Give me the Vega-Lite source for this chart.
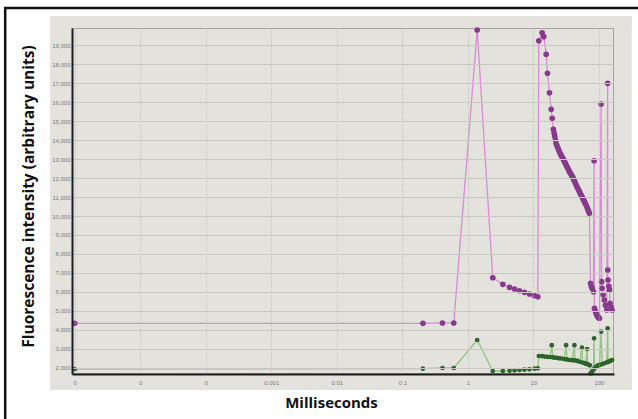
{
  "$schema": "https://vega.github.io/schema/vega-lite/v6.json",
  "width": 542,
  "height": 346,
  "autosize": "none",
  "padding": {"left": 72, "top": 28, "right": 24, "bottom": 45},
  "background": "white",
  "config": {
    "view": {"stroke": "#8e8e8e", "strokeWidth": 1.5, "fill": "#e4e2dd"}
  },
  "datasets": {
    "series": [
      {"s": "purple", "i": 1, "t": 0.000001, "v": 4350},
      {"s": "purple", "i": 2, "t": 0.206, "v": 4350},
      {"s": "purple", "i": 3, "t": 0.41, "v": 4370},
      {"s": "purple", "i": 4, "t": 0.61, "v": 4370},
      {"s": "purple", "i": 5, "t": 1.39, "v": 19790},
      {"s": "purple", "i": 6, "t": 2.4, "v": 6750},
      {"s": "purple", "i": 7, "t": 3.42, "v": 6405},
      {"s": "purple", "i": 8, "t": 4.33, "v": 6247},
      {"s": "purple", "i": 9, "t": 5.16, "v": 6158},
      {"s": "purple", "i": 10, "t": 6.14, "v": 6068},
      {"s": "purple", "i": 11, "t": 7.31, "v": 5984},
      {"s": "purple", "i": 12, "t": 8.71, "v": 5895},
      {"s": "purple", "i": 13, "t": 10.4, "v": 5805},
      {"s": "purple", "i": 14, "t": 11.7, "v": 5752},
      {"s": "purple", "i": 15, "t": 12.1, "v": 19226},
      {"s": "purple", "i": 16, "t": 13.6, "v": 19647},
      {"s": "purple", "i": 17, "t": 14.4, "v": 19437},
      {"s": "purple", "i": 18, "t": 15.7, "v": 18511},
      {"s": "purple", "i": 19, "t": 16.4, "v": 17511},
      {"s": "purple", "i": 20, "t": 17.6, "v": 16489},
      {"s": "purple", "i": 21, "t": 18.7, "v": 15616},
      {"s": "purple", "i": 22, "t": 19.4, "v": 15142},
      {"s": "purple", "i": 23, "t": 20.2, "v": 14563},
      {"s": "purple", "i": 24, "t": 20.7, "v": 14380},
      {"s": "purple", "i": 25, "t": 21.2, "v": 14200},
      {"s": "purple", "i": 26, "t": 21.7, "v": 14010},
      {"s": "purple", "i": 27, "t": 22.2, "v": 13826},
      {"s": "purple", "i": 28, "t": 22.8, "v": 13710},
      {"s": "purple", "i": 29, "t": 23.5, "v": 13600},
      {"s": "purple", "i": 30, "t": 24.2, "v": 13490},
      {"s": "purple", "i": 31, "t": 25.0, "v": 13384},
      {"s": "purple", "i": 32, "t": 25.7, "v": 13290},
      {"s": "purple", "i": 33, "t": 26.5, "v": 13200},
      {"s": "purple", "i": 34, "t": 27.3, "v": 13120},
      {"s": "purple", "i": 35, "t": 28.1, "v": 13037},
      {"s": "purple", "i": 36, "t": 29.0, "v": 12950},
      {"s": "purple", "i": 37, "t": 29.8, "v": 12860},
      {"s": "purple", "i": 38, "t": 30.7, "v": 12770},
      {"s": "purple", "i": 39, "t": 31.6, "v": 12684},
      {"s": "purple", "i": 40, "t": 32.5, "v": 12600},
      {"s": "purple", "i": 41, "t": 33.5, "v": 12510},
      {"s": "purple", "i": 42, "t": 34.5, "v": 12420},
      {"s": "purple", "i": 43, "t": 35.5, "v": 12332},
      {"s": "purple", "i": 44, "t": 36.6, "v": 12260},
      {"s": "purple", "i": 45, "t": 37.7, "v": 12185},
      {"s": "purple", "i": 46, "t": 38.8, "v": 12110},
      {"s": "purple", "i": 47, "t": 39.9, "v": 12037},
      {"s": "purple", "i": 48, "t": 41.1, "v": 11940},
      {"s": "purple", "i": 49, "t": 42.3, "v": 11840},
      {"s": "purple", "i": 50, "t": 43.6, "v": 11735},
      {"s": "purple", "i": 51, "t": 44.9, "v": 11632},
      {"s": "purple", "i": 52, "t": 46.2, "v": 11545},
      {"s": "purple", "i": 53, "t": 47.6, "v": 11455},
      {"s": "purple", "i": 54, "t": 49.0, "v": 11365},
      {"s": "purple", "i": 55, "t": 50.4, "v": 11279},
      {"s": "purple", "i": 56, "t": 51.9, "v": 11190},
      {"s": "purple", "i": 57, "t": 53.4, "v": 11105},
      {"s": "purple", "i": 58, "t": 55.0, "v": 11020},
      {"s": "purple", "i": 59, "t": 56.6, "v": 10932},
      {"s": "purple", "i": 60, "t": 58.3, "v": 10845},
      {"s": "purple", "i": 61, "t": 60.1, "v": 10755},
      {"s": "purple", "i": 62, "t": 61.9, "v": 10665},
      {"s": "purple", "i": 63, "t": 63.8, "v": 10579},
      {"s": "purple", "i": 64, "t": 65.7, "v": 10470},
      {"s": "purple", "i": 65, "t": 67.6, "v": 10360},
      {"s": "purple", "i": 66, "t": 69.6, "v": 10250},
      {"s": "purple", "i": 67, "t": 71.6, "v": 10142},
      {"s": "purple", "i": 68, "t": 74.5, "v": 6458},
      {"s": "purple", "i": 69, "t": 76.5, "v": 6300},
      {"s": "purple", "i": 70, "t": 78.8, "v": 6195},
      {"s": "purple", "i": 71, "t": 82.6, "v": 6016},
      {"s": "purple", "i": 72, "t": 84.5, "v": 12910},
      {"s": "purple", "i": 73, "t": 85.5, "v": 5142},
      {"s": "purple", "i": 74, "t": 88, "v": 5000},
      {"s": "purple", "i": 75, "t": 90.6, "v": 4879},
      {"s": "purple", "i": 76, "t": 93, "v": 4780},
      {"s": "purple", "i": 77, "t": 95.9, "v": 4700},
      {"s": "purple", "i": 78, "t": 99, "v": 4650},
      {"s": "purple", "i": 79, "t": 102, "v": 4616},
      {"s": "purple", "i": 80, "t": 108, "v": 15895},
      {"s": "purple", "i": 81, "t": 110, "v": 6544},
      {"s": "purple", "i": 82, "t": 112, "v": 6195},
      {"s": "purple", "i": 83, "t": 116, "v": 5850},
      {"s": "purple", "i": 84, "t": 121, "v": 5579},
      {"s": "purple", "i": 85, "t": 126, "v": 5300},
      {"s": "purple", "i": 86, "t": 132, "v": 5053},
      {"s": "purple", "i": 87, "t": 136, "v": 16984},
      {"s": "purple", "i": 88, "t": 136.5, "v": 7158},
      {"s": "purple", "i": 89, "t": 138, "v": 6632},
      {"s": "purple", "i": 90, "t": 142, "v": 6300},
      {"s": "purple", "i": 91, "t": 145, "v": 6105},
      {"s": "purple", "i": 92, "t": 148, "v": 5404},
      {"s": "purple", "i": 93, "t": 153, "v": 5200},
      {"s": "purple", "i": 94, "t": 159, "v": 5053},
      {"s": "green", "i": 1, "t": 0.000001, "v": 1940},
      {"s": "green", "i": 2, "t": 0.206, "v": 1963},
      {"s": "green", "i": 3, "t": 0.41, "v": 2000},
      {"s": "green", "i": 4, "t": 0.61, "v": 2000},
      {"s": "green", "i": 5, "t": 1.39, "v": 3474},
      {"s": "green", "i": 6, "t": 2.4, "v": 1842},
      {"s": "green", "i": 7, "t": 3.42, "v": 1842},
      {"s": "green", "i": 8, "t": 4.33, "v": 1858},
      {"s": "green", "i": 9, "t": 5.16, "v": 1879},
      {"s": "green", "i": 10, "t": 6.14, "v": 1895},
      {"s": "green", "i": 11, "t": 7.31, "v": 1911},
      {"s": "green", "i": 12, "t": 8.71, "v": 1932},
      {"s": "green", "i": 13, "t": 10.4, "v": 1963},
      {"s": "green", "i": 14, "t": 11.7, "v": 1984},
      {"s": "green", "i": 15, "t": 12.1, "v": 2630},
      {"s": "green", "i": 16, "t": 13.6, "v": 2620},
      {"s": "green", "i": 17, "t": 15, "v": 2600},
      {"s": "green", "i": 18, "t": 16.5, "v": 2590},
      {"s": "green", "i": 19, "t": 18, "v": 2580},
      {"s": "green", "i": 20, "t": 19.1, "v": 3200},
      {"s": "green", "i": 21, "t": 19.8, "v": 2560},
      {"s": "green", "i": 22, "t": 21, "v": 2550},
      {"s": "green", "i": 23, "t": 23, "v": 2530},
      {"s": "green", "i": 24, "t": 25, "v": 2510},
      {"s": "green", "i": 25, "t": 27, "v": 2500},
      {"s": "green", "i": 26, "t": 29.5, "v": 2470},
      {"s": "green", "i": 27, "t": 31.6, "v": 3200},
      {"s": "green", "i": 28, "t": 32.5, "v": 2450},
      {"s": "green", "i": 29, "t": 35.5, "v": 2420},
      {"s": "green", "i": 30, "t": 39, "v": 2410},
      {"s": "green", "i": 31, "t": 42.3, "v": 3200},
      {"s": "green", "i": 32, "t": 43, "v": 2400},
      {"s": "green", "i": 33, "t": 47, "v": 2370},
      {"s": "green", "i": 34, "t": 51, "v": 2330},
      {"s": "green", "i": 35, "t": 55.1, "v": 3070},
      {"s": "green", "i": 36, "t": 56, "v": 2290},
      {"s": "green", "i": 37, "t": 60, "v": 2260},
      {"s": "green", "i": 38, "t": 63, "v": 2230},
      {"s": "green", "i": 39, "t": 66.1, "v": 3000},
      {"s": "green", "i": 40, "t": 67, "v": 2200},
      {"s": "green", "i": 41, "t": 70, "v": 2170},
      {"s": "green", "i": 42, "t": 73, "v": 2140},
      {"s": "green", "i": 43, "t": 74.5, "v": 1720},
      {"s": "green", "i": 44, "t": 78.8, "v": 1800},
      {"s": "green", "i": 45, "t": 82.6, "v": 1900},
      {"s": "green", "i": 46, "t": 84.5, "v": 3560},
      {"s": "green", "i": 47, "t": 85.5, "v": 1980},
      {"s": "green", "i": 48, "t": 90.6, "v": 2060},
      {"s": "green", "i": 49, "t": 95.9, "v": 2120},
      {"s": "green", "i": 50, "t": 102, "v": 2160},
      {"s": "green", "i": 51, "t": 108, "v": 3910},
      {"s": "green", "i": 52, "t": 112, "v": 2200},
      {"s": "green", "i": 53, "t": 121, "v": 2250},
      {"s": "green", "i": 54, "t": 132, "v": 2300},
      {"s": "green", "i": 55, "t": 136, "v": 4090},
      {"s": "green", "i": 56, "t": 138, "v": 2320},
      {"s": "green", "i": 57, "t": 145, "v": 2350},
      {"s": "green", "i": 58, "t": 152, "v": 2390},
      {"s": "green", "i": 59, "t": 159, "v": 2420}
    ]
  },
  "encoding": {
    "x": {
      "type": "quantitative",
      "scale": {"type": "log", "domain": [0.00000091, 170], "nice": false},
      "axis": {
        "grid": true,
        "values": [0.000001, 0.00001, 0.0001, 0.001, 0.01, 0.1, 1, 10, 100],
        "format": ".3~f",
        "labelFont": "Liberation Sans",
        "labelFontSize": 6,
        "labelColor": "#7a7a7a",
        "labelPadding": 5,
        "tickSize": 0,
        "domainColor": "#1e1e1e",
        "domainWidth": 2,
        "gridColor": "#b9b7b1",
        "gridDash": [1, 2],
        "gridWidth": 1,
        "title": "Milliseconds",
        "titleFont": "Open Sans",
        "titleFontSize": 15,
        "titleFontWeight": "bold",
        "titleColor": "#111111",
        "titleX": 259,
        "titleY": 21,
        "titleBaseline": "top",
        "titleAlign": "center",
        "zindex": 1
      }
    },
    "y": {
      "type": "quantitative",
      "scale": {"domain": [1684, 19895], "nice": false, "zero": false},
      "axis": {
        "grid": true,
        "values": [2000, 3000, 4000, 5000, 6000, 7000, 8000, 9000, 10000, 11000, 12000, 13000, 14000, 15000, 16000, 17000, 18000, 19000],
        "format": ",d",
        "labelFont": "Liberation Sans",
        "labelFontSize": 6,
        "labelColor": "#7a7a7a",
        "labelPadding": 2,
        "tickSize": 0,
        "domainColor": "#1e1e1e",
        "domainWidth": 2,
        "gridColor": "#c9c7c1",
        "gridWidth": 1,
        "title": "Fluorescence intensity (arbitrary units)",
        "titleFont": "Open Sans",
        "titleFontSize": 15.5,
        "titleFontWeight": "bold",
        "titleColor": "#111111",
        "titleAngle": -90,
        "titleX": -44,
        "titleY": 168,
        "titleAlign": "center",
        "titleBaseline": "middle",
        "zindex": 1
      }
    }
  },
  "resolve": {"scale": {"color": "independent", "size": "independent"}},
  "layer": [
    {
      "data": {"values": [{}]},
      "mark": {"type": "rect", "fill": "#e4e2dd", "clip": false},
      "encoding": {"x": {"datum": 0.00000042}, "x2": {"datum": 0.00000091}, "y": {"datum": 842}, "y2": {"datum": 20527}}
    },
    {
      "data": {"values": [{}]},
      "mark": {"type": "rect", "fill": "#e4e2dd", "clip": false},
      "encoding": {"x": {"datum": 170}, "x2": {"datum": 318}, "y": {"datum": 842}, "y2": {"datum": 20527}}
    },
    {
      "data": {"values": [{}]},
      "mark": {"type": "rect", "fill": "#e4e2dd", "clip": false},
      "encoding": {"x": {"datum": 0.00000042}, "x2": {"datum": 318}, "y": {"datum": 19895}, "y2": {"datum": 20527}}
    },
    {
      "data": {"values": [{}]},
      "mark": {"type": "rect", "fill": "#e4e2dd", "clip": false},
      "encoding": {"x": {"datum": 0.00000042}, "x2": {"datum": 318}, "y": {"datum": 842}, "y2": {"datum": 1684}}
    },
    {
      "data": {"values": [{}]},
      "mark": {"type": "rect", "fill": null, "stroke": "#111111", "strokeWidth": 2.5, "clip": false},
      "encoding": {"x": {"datum": 0.000000087}, "x2": {"datum": 3500}, "y": {"datum": -1790}, "y2": {"datum": 20948}}
    },
    {
      "data": {"name": "series"},
      "mark": {"type": "line", "strokeWidth": 1.3},
      "encoding": {
        "x": {"field": "t"},
        "y": {"field": "v"},
        "order": {"field": "i"},
        "color": {"field": "s", "type": "nominal", "scale": {"domain": ["purple", "green"], "range": ["#d98ad4", "#93c285"]}, "legend": null}
      }
    },
    {
      "data": {"name": "series"},
      "mark": {"type": "point", "filled": true, "opacity": 1},
      "encoding": {
        "x": {"field": "t"},
        "y": {"field": "v"},
        "color": {"field": "s", "type": "nominal", "scale": {"domain": ["purple", "green"], "range": ["#87398b", "#2d6429"]}, "legend": null},
        "size": {"field": "s", "type": "nominal", "scale": {"domain": ["purple", "green"], "range": [32, 22]}, "legend": null}
      }
    }
  ]
}
